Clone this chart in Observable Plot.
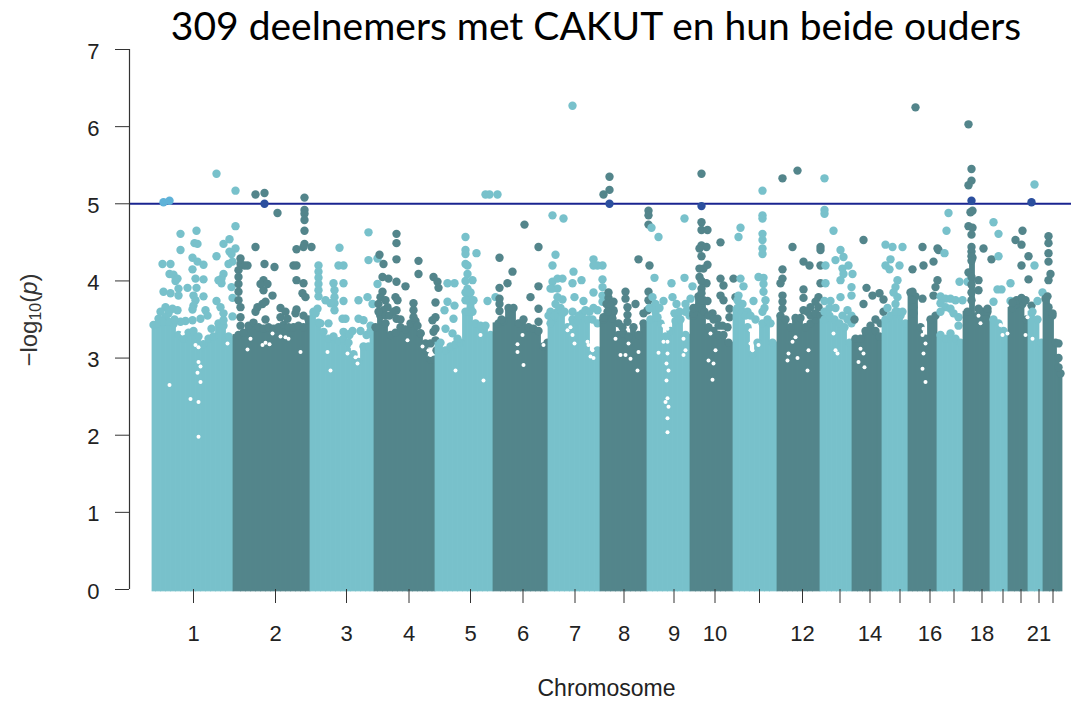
<!DOCTYPE html>
<html>
<head>
<meta charset="utf-8">
<script src="https://cdn.jsdelivr.net/npm/d3@7"></script>
<script src="https://cdn.jsdelivr.net/npm/@observablehq/plot@0.6"></script>
<style>
html,body{margin:0;padding:0;background:#fff;width:1071px;height:702px;overflow:hidden;position:relative}
#title{position:absolute;left:0;top:2px;width:1192px;text-align:center;font:39px Lato,sans-serif;color:#000;white-space:nowrap}
#ylab{position:absolute;left:29px;top:320px;transform:translate(-50%,-50%) rotate(-90deg);font:24px "Liberation Sans",sans-serif;color:#333;white-space:nowrap}
#ylab sub{font-size:16px;vertical-align:-4px;line-height:0}
</style>
</head>
<body>
<div id="title">309 deelnemers met CAKUT en hun beide ouders</div>
<div id="ylab">−log<sub>10</sub>(<i>p</i>)</div>
<div id="chart"></div>
<script>
const chromosomes = [1,2,3,4,5,6,7,8,9,10,11,12,13,14,15,16,17,18,19,20,21,22];
const chromEdges = [0,81,158,222,283,341,396,448,495,538,581,625,668,700,730,756,785,811,838,856,876,891,910];
const tickPositions = [41,123,194,256.5,318,370.5,422.5,471.5,521.5,562.5,607,650,687.5,717.5,747.5,777.5,801.5,829.5,850.5,868.5,886.5,900.5];
const tickNames = ["1","2","3","4","5","6","7","8","9","10","","12","","14","","16","","18","","","21",""];
const threshold = 5;

const chr1Top = [[1,3.43],[6,3.45],[11,3.47],[16,3.47],[21,3.44],[26,3.30],[31,3.25],[36,3.33],[41,3.35],[46,3.28],[51,3.18],[56,3.25],[61,3.28],[66,3.45],[71,3.42],[76,3.28]];
const chr2Top = [[86,3.30],[91,3.33],[96,3.42],[101,3.46],[106,3.40],[111,3.38],[116,3.40],[121,3.38],[126,3.40],[131,3.43],[136,3.40],[141,3.40],[146,3.42],[151,3.40],[156,3.50]];
const chr3Top = [[161,3.60],[166,3.46],[171,3.34],[176,3.25],[181,3.28],[186,3.22],[191,3.25],[196,3.20],[201,3.05],[206,2.95],[211,3.15],[216,3.15],[220,3.30]];
const chr4Top = [[223,3.40],[228,3.55],[233,3.45],[238,3.30],[243,3.33],[248,3.40],[253,3.37],[258,3.45],[263,3.48],[268,3.32],[273,3.10],[278,2.98],[282,2.98]];
const chr5Top = [[288,3.20],[293,3.10],[298,3.15],[303,3.18],[308,3.20],[313,3.60],[318,3.65],[323,3.45],[328,3.42],[333,3.42],[338,3.30]];
const chr6Top = [[346,3.45],[351,3.48],[356,3.65],[361,3.65],[366,3.45],[371,3.50],[376,3.40],[381,3.38],[386,3.35],[391,3.15],[395,3.20]];
const chr7Top = [[400,3.50],[405,3.60],[410,3.58],[415,3.40],[420,3.50],[425,3.48],[430,3.58],[435,3.50],[440,3.05],[445,3.10]];
const chr8Top = [[451,3.50],[456,3.78],[461,3.60],[466,3.30],[471,3.32],[476,3.28],[481,3.40],[486,3.30],[491,3.45]];
const chr9Top = [[498,3.50],[503,3.60],[508,3.45],[513,3.28],[518,3.35],[523,3.48],[528,3.50],[533,3.30]];
const chr10Top = [[541,3.55],[546,3.80],[551,3.75],[556,3.40],[561,3.35],[566,3.30],[571,3.30],[576,3.20]];
const chr11Top = [[585,3.65],[590,3.60],[595,3.40],[600,3.05],[605,3.20],[610,3.45],[615,3.50],[620,3.20]];
const chr12Top = [[628,3.55],[633,3.50],[638,3.40],[643,3.52],[648,3.52],[653,3.40],[658,3.45],[663,3.50]];
const chr13Top = [[672,3.50],[677,3.55],[682,3.50],[687,3.45],[692,3.40],[697,3.20]];
const chr14Top = [[703,3.25],[708,3.25],[713,3.35],[718,3.42],[723,3.35],[727,3.28]];
const chr15Top = [[733,3.50],[738,3.55],[743,3.60],[748,3.55],[753,3.45]];
const chr16Top = [[758,3.85],[763,3.80],[768,3.40],[773,3.25],[778,3.50],[783,3.55]];
const chr17Top = [[788,3.30],[793,3.25],[798,3.32],[803,3.25],[808,3.20]];
const chr18Top = [[815,3.60],[820,4.30],[825,3.55],[830,3.60],[835,3.60]];
const chr19Top = [[841,3.50],[846,3.45],[851,3.35],[855,3.30]];
const chr20Top = [[860,3.65],[865,3.70],[870,3.70],[874,3.50]];
const chr21Top = [[880,3.60],[885,3.50],[889,3.20]];
const chr22Top = [[895,3.80],[900,3.55],[903,3.20],[906,3.00],[908,2.80]];

const chr1Peaks = [[64,5.39],[83,5.17],[83,4.71],[28,4.61],[44,4.65],[42,4.49],[45,4.48],[28,4.40],[77,4.54],[71,4.48],[83,4.42],[77,4.38],[79,4.35],[64,4.32],[80,4.25],[76,4.22],[10,4.22],[18,4.22],[40,4.30],[45,4.25],[51,4.21],[40,4.15],[17,4.09],[21,4.08],[25,4.03],[23,4.00],[26,3.90],[71,4.09],[69,4.03],[66,4.01],[69,3.97],[43,4.03],[51,4.02],[44,3.91],[35,3.91],[11,3.86],[18,3.84],[26,3.81],[41,3.81],[51,3.80],[43,3.75],[41,3.68],[40,3.63],[64,3.74],[68,3.66],[71,3.58],[71,3.49],[79,3.92],[80,3.78],[80,3.54],[53,3.62],[55,3.55],[33,3.48],[40,3.49],[48,3.51],[28,3.47],[59,3.38],[13,3.66],[20,3.64],[25,3.62],[16,3.58],[6,3.51],[13,3.53],[15,3.47],[10,3.47],[22,3.50],[8,3.60]];
const chr2Peaks = [[103,5.12],[112,5.14],[125,4.88],[152,5.08],[152,4.92],[152,4.87],[152,4.79],[152,4.65],[144,4.41],[152,4.48],[151,4.44],[159,4.44],[103,4.44],[112,4.22],[122,4.18],[95,4.20],[141,4.20],[144,4.20],[88,4.29],[88,4.22],[92,4.20],[86,4.14],[86,4.05],[86,3.96],[86,3.86],[86,3.75],[88,3.66],[88,3.53],[88,3.42],[111,4.01],[108,3.96],[115,3.96],[111,3.88],[120,3.81],[113,3.73],[110,3.70],[105,3.66],[103,3.60],[144,4.01],[151,3.97],[150,3.84],[153,3.79],[128,3.65],[133,3.60],[128,3.53],[135,3.51],[144,3.63],[143,3.58],[151,3.55],[113,3.50]];
const chr3Peaks = [[166,4.20],[166,4.12],[166,4.04],[166,3.96],[166,3.88],[166,3.80],[187,4.43],[186,4.20],[191,4.20],[181,3.97],[191,3.97],[182,3.88],[182,3.79],[182,3.71],[182,3.62],[191,3.74],[173,3.75],[178,3.71],[193,3.51],[190,3.51],[206,3.75],[215,3.79],[220,3.70],[216,4.63],[216,4.27],[225,4.29],[225,3.96],[165,3.64],[163,3.58],[168,3.45],[176,3.45],[206,3.51],[211,3.49],[218,3.42],[191,3.34],[196,3.31],[197,3.30],[200,3.35],[208,3.35],[214,3.30],[218,3.35]];
const chr4Peaks = [[244,4.61],[244,4.49],[244,4.28],[227,4.34],[231,4.22],[230,4.05],[236,4.03],[244,3.99],[253,3.93],[266,4.26],[266,4.09],[281,4.05],[285,3.99],[286,3.91],[283,3.72],[230,3.86],[228,3.79],[233,3.75],[235,3.66],[228,3.55],[231,3.62],[243,3.79],[245,3.75],[244,3.62],[244,3.51],[261,3.71],[261,3.62],[261,3.53],[265,3.42],[268,3.32],[273,3.19],[278,3.19],[283,3.53],[280,3.49],[283,3.38],[281,3.34],[283,3.23],[284,3.10],[226,3.70],[226,3.60],[233,3.55],[237,3.55],[241,3.60],[248,3.50]];
const chr5Peaks = [[333,5.12],[337,5.12],[345,5.12],[295,3.97],[302,3.97],[295,3.73],[302,3.68],[292,3.62],[301,3.51],[313,4.57],[313,4.40],[313,4.35],[324,4.36],[313,4.22],[315,4.20],[315,4.09],[320,4.01],[313,4.00],[315,3.90],[316,3.80],[318,3.70],[316,3.60],[335,3.74],[343,3.79],[293,3.38],[300,3.32],[305,3.25],[313,3.85],[318,3.85],[321,3.75],[313,3.75],[320,3.60]];
const chr6Peaks = [[372,4.73],[386,4.44],[347,4.30],[360,4.12],[355,3.97],[347,3.91],[386,3.93],[378,3.79],[386,3.64],[386,3.47],[347,3.77],[347,3.70],[347,3.61],[349,3.50]];
const chr7Peaks = [[420,6.27],[400,4.85],[411,4.81],[403,4.34],[400,4.20],[421,4.12],[400,3.99],[405,4.03],[410,4.03],[420,3.97],[429,4.01],[400,3.90],[405,3.90],[405,3.79],[410,3.76],[422,3.79],[431,3.74],[441,3.85],[441,4.28],[445,4.20],[450,4.20],[441,4.20],[450,4.02],[450,3.92],[450,3.81],[450,3.73],[396,3.55],[398,3.45],[398,3.90],[398,3.60],[403,3.70],[408,3.65],[402,3.55],[412,3.60],[420,3.60],[426,3.55],[433,3.62],[437,3.60],[440,3.50],[445,3.45],[441,3.65],[445,3.62]];
const chr8Peaks = [[457,5.35],[457,5.18],[451,5.12],[486,4.28],[497,4.20],[496,4.91],[496,4.85],[496,4.73],[473,3.86],[473,3.77],[475,3.66],[475,3.56],[475,3.47],[483,3.70],[496,3.86],[496,3.75],[491,3.58],[495,3.62],[456,3.85],[461,3.73],[461,3.62],[451,3.53],[460,3.51],[454,3.70],[458,3.68],[455,3.60],[466,3.45],[470,3.40]];
const chr9Peaks = [[499,4.69],[506,4.57],[532,4.81],[502,4.04],[519,3.97],[532,4.04],[540,3.93],[511,3.74],[520,3.79],[524,3.70],[500,3.79],[501,3.66],[505,3.53],[538,3.77],[535,3.62],[525,3.55],[497,3.65],[503,3.70],[507,3.65],[522,3.58],[527,3.60],[533,3.60],[537,3.55],[533,3.70]];
const chr10Peaks = [[549,5.39],[549,4.76],[549,4.66],[555,4.66],[568,4.50],[549,4.46],[554,4.44],[547,4.42],[549,4.32],[555,4.21],[551,4.16],[547,4.16],[547,4.05],[554,3.97],[549,4.00],[549,3.90],[549,3.84],[549,3.75],[545,3.66],[541,3.58],[550,3.62],[568,4.03],[571,3.94],[581,4.03],[568,3.81],[571,3.75],[577,3.64],[577,3.53],[583,3.79],[555,3.74],[560,3.58],[565,3.51],[541,3.65],[552,3.60],[556,3.55],[561,3.50],[566,3.42],[570,3.42],[575,3.40]];
const chr11Peaks = [[610,5.17],[610,4.85],[610,4.81],[610,4.61],[610,4.53],[610,4.42],[610,4.35],[588,4.69],[586,4.57],[588,4.03],[591,3.93],[586,3.81],[606,4.05],[611,4.04],[611,3.96],[611,3.86],[613,3.75],[601,3.74],[595,3.60],[593,3.55],[590,3.70],[585,3.75],[603,3.50],[598,3.55],[610,3.60],[612,3.65],[618,3.45]];
const chr12Peaks = [[630,5.33],[645,5.43],[640,4.44],[668,4.44],[668,4.40],[651,4.25],[657,4.20],[668,4.20],[630,4.15],[630,4.03],[628,3.97],[668,3.97],[651,3.89],[651,3.78],[630,3.81],[630,3.73],[630,3.64],[666,3.79],[663,3.73],[658,3.66],[651,3.62],[666,3.66],[655,3.60],[658,3.55],[663,3.58],[668,3.55]];
const chr13Peaks = [[672,5.33],[672,4.92],[672,4.87],[681,4.65],[673,4.20],[673,3.97],[688,4.40],[691,4.31],[683,4.27],[690,4.16],[696,4.20],[688,4.01],[691,4.09],[700,4.09],[699,3.92],[699,3.81],[688,3.79],[678,3.74],[672,3.74],[695,3.62],[672,3.60],[677,3.65],[683,3.65],[690,3.55],[695,3.50],[699,3.55],[699,3.45]];
const chr14Peaks = [[711,4.53],[714,3.91],[711,3.70],[720,3.81],[727,3.84],[731,3.76],[702,3.50],[731,3.60],[723,3.50],[728,3.45]];
const chr15Peaks = [[733,4.47],[740,4.44],[750,4.44],[738,4.28],[733,4.20],[737,4.15],[747,4.20],[745,4.01],[743,3.92],[745,3.79],[743,3.70],[741,3.85],[745,3.60],[735,3.65],[750,3.60]];
const chr16Peaks = [[763,6.25],[770,4.44],[785,4.42],[786,4.40],[781,4.25],[771,4.20],[760,4.15],[785,4.01],[783,3.92],[760,3.86],[760,3.75],[761,3.66],[761,3.58],[770,3.77],[781,3.81]];
const chr17Peaks = [[796,4.88],[794,4.65],[792,4.36],[807,3.99],[815,3.99],[788,3.80],[793,3.77],[798,3.77],[803,3.75],[810,3.75],[788,3.71],[793,3.66],[798,3.64],[788,3.60],[806,3.53],[801,3.58],[806,3.42]];
const chr18Peaks = [[816,6.03],[819,5.45],[819,5.30],[816,5.24],[820,4.91],[818,4.89],[816,4.71],[820,4.69],[819,4.60],[819,4.44],[819,4.38],[819,4.32],[819,4.26],[816,4.11],[819,4.05],[826,4.01],[826,3.88],[831,4.42],[839,4.28],[835,3.64],[826,3.64],[819,3.95],[819,3.85],[819,3.75]];
const chr19Peaks = [[841,4.76],[846,4.61],[846,4.32],[845,3.89],[849,3.89],[841,3.73],[858,3.97],[858,3.74]];
const chr20Peaks = [[870,4.65],[863,4.53],[869,4.47],[876,4.32],[869,4.20],[876,4.02],[879,3.68],[863,3.70],[870,3.74],[864,3.75],[869,3.78],[873,3.75],[860,3.72]];
const chr21Peaks = [[882,5.25],[882,4.20],[890,3.85],[885,3.74]];
const chr22Peaks = [[896,4.58],[896,4.49],[896,4.36],[896,4.25],[898,4.09],[896,4.01],[893,3.77],[896,3.66],[900,3.58],[906,3.19],[906,2.88]];

const lineHitsDark = [[112,5.00],[457,5.00],[549,4.97],[819,5.04],[879,5.02]];
const lineHitsLight = [[11,5.02],[17,5.04]];

const massGaps = [[30,3.32],[43,3.17],[46,3.14],[46,2.95],[48,2.89],[45,2.81],[48,2.69],[46,2.43],[46,1.98],[38,2.47],[17,2.65],[75,3.19],
 [98,3.25],[120,3.32],[128,3.28],[133,3.27],[136,3.25],[110,3.17],[113,3.20],[117,3.18],[95,3.11],[148,3.08],
 [200,3.14],[203,3.01],[205,2.93],[195,3.06],[178,2.84],[175,3.08],
 [238,3.40],[255,3.23],[270,3.15],[276,3.10],[278,3.04],
 [303,2.84],[331,2.71],[328,3.30],
 [365,3.18],[370,3.30],[365,3.08],[371,2.91],[391,3.17],
 [418,3.40],[415,3.36],[420,3.30],[422,3.19],[436,3.17],[440,3.10],[435,3.21],[438,3.02],[441,3.00],
 [463,3.25],[473,3.04],[468,3.04],[478,2.99],[476,3.19],[486,3.08],[485,2.84],
 [511,3.21],[515,3.21],[511,3.42],[515,3.38],[515,3.06],[514,2.93],[516,2.84],[514,2.71],[515,2.48],[513,2.43],[516,2.37],[515,2.22],[515,2.04],[531,3.25],[533,3.10],[531,3.04],[506,3.07],
 [563,3.10],[556,2.97],[561,2.93],[560,2.72],[558,3.32],
 [598,3.19],[606,3.17],[600,3.10],[598,3.36],[620,3.30],
 [643,3.27],[640,3.21],[636,3.06],[645,3.00],[635,2.97],[656,3.10],[655,2.84],
 [681,3.32],[683,3.10],[685,3.06],
 [708,3.12],[711,3.06],[706,2.95],[712,2.88],
 [771,3.38],[770,3.30],[773,3.19],[771,3.06],[770,2.86],[773,2.69],
 [828,3.45],[826,3.55],[848,3.43],[850,3.30],[855,3.32],[875,3.53],[873,3.30],[880,3.25]];

const tops = [chr1Top,chr2Top,chr3Top,chr4Top,chr5Top,chr6Top,chr7Top,chr8Top,chr9Top,chr10Top,chr11Top,chr12Top,chr13Top,chr14Top,chr15Top,chr16Top,chr17Top,chr18Top,chr19Top,chr20Top,chr21Top,chr22Top];
const peaks = [chr1Peaks,chr2Peaks,chr3Peaks,chr4Peaks,chr5Peaks,chr6Peaks,chr7Peaks,chr8Peaks,chr9Peaks,chr10Peaks,chr11Peaks,chr12Peaks,chr13Peaks,chr14Peaks,chr15Peaks,chr16Peaks,chr17Peaks,chr18Peaks,chr19Peaks,chr20Peaks,chr21Peaks,chr22Peaks];

const LIGHT = "#78c1cb", DARK = "#53858b", LINE = "#1a2490";
const DOT_R = 4.2;
const FLOOR = -0.025;

const marks = [];
chromosomes.forEach((c, i) => {
  const fill = c % 2 ? LIGHT : DARK;
  const top = tops[i];
  const start = chromEdges[i], end = chromEdges[i + 1];
  const segments = top.map((d, j) => ({
    x1: j === 0 ? start : (top[j - 1][0] + d[0]) / 2,
    x2: j === top.length - 1 ? end : (d[0] + top[j + 1][0]) / 2,
    y: d[1]
  }));
  marks.push(Plot.rect(segments, {x1: "x1", x2: "x2", y1: () => FLOOR, y2: "y", fill, stroke: fill, strokeWidth: 0.8}));
  marks.push(Plot.dot(top, {x: d => d[0], y: d => d[1], r: DOT_R, fill}));
  marks.push(Plot.dot(peaks[i], {x: d => d[0], y: d => d[1], r: DOT_R, fill}));
});

const nameAt = new Map(tickPositions.map((p, i) => [p, tickNames[i]]));

const plot = Plot.plot({
  width: 1071,
  height: 702,
  marginLeft: 129,
  marginRight: 0,
  marginTop: 49,
  marginBottom: 113,
  style: {background: "transparent", fontFamily: "Liberation Sans", color: "#222"},
  x: {domain: [-23, 919], axis: null},
  y: {domain: [0, 7], axis: null},
  marks: [
    ...marks,
    Plot.dot(massGaps, {x: d => d[0], y: d => d[1], r: 2, fill: "#fff"}),
    Plot.ruleY([threshold], {stroke: LINE, strokeWidth: 2}),
    Plot.dot(lineHitsDark, {x: d => d[0], y: d => d[1], r: DOT_R, fill: "#2b4f9e"}),
    Plot.dot(lineHitsLight, {x: d => d[0], y: d => d[1], r: DOT_R, fill: "#5fb2d8"}),
    Plot.ruleX([-23], {y1: 0, y2: 7, stroke: "#333", strokeWidth: 1.2}),
    Plot.axisY({ticks: d3.range(0, 8), tickSize: 14, stroke: "#333", fill: "none", label: null}),
    Plot.axisY({ticks: d3.range(0, 8), tickSize: 0, tickPadding: 30, fontSize: 22, dy: 2, label: null, fill: "#222", tickFormat: d => String(d)}),
    Plot.axisX(tickPositions, {tickSize: 14, stroke: "#333", fill: "none", label: null}),
    Plot.axisX(tickPositions, {tickSize: 0, tickPadding: 36, fontSize: 22, label: null, fill: "#222", tickFormat: d => nameAt.get(d)}),
    Plot.text(["Chromosome"], {x: () => 454, frameAnchor: "bottom", lineAnchor: "middle", dy: 99, fontSize: 23, fill: "#222"})
  ]
});
document.getElementById("chart").appendChild(plot);
</script>
</body>
</html>
